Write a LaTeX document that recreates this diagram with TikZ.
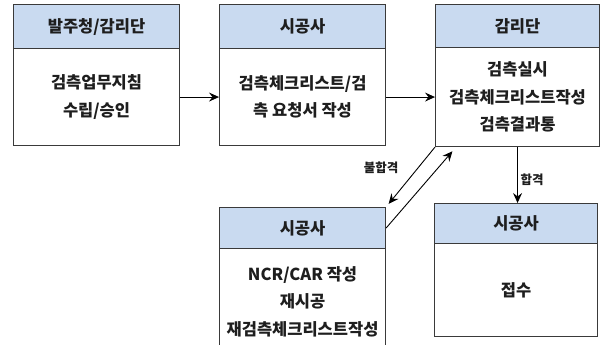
\documentclass[tikz,border=0pt]{standalone}
\usepackage{fontspec}
\setmainfont{Noto Sans CJK KR}
\usetikzlibrary{arrows.meta}
\definecolor{hdrfill}{HTML}{C9DAF0}
\definecolor{edge}{HTML}{3A3A3A}
\definecolor{txt}{HTML}{1E1E1E}
\tikzset{
  hdr/.style={draw=edge, line width=1.1pt, fill=hdrfill, anchor=north west, inner sep=0pt,
    text=txt, font=\fontsize{16.5}{27.5}\selectfont\bfseries},
  bodybox/.style={draw=edge, line width=1.1pt, fill=white, anchor=north west, inner sep=0pt,
    align=center, text=txt, font=\fontsize{16.5}{27.5}\selectfont\bfseries},
  flow/.style={draw=black, line width=0.9pt, -{Stealth[length=10pt,width=9pt,inset=3.5pt]}},
  lbl/.style={text=txt, font=\fontsize{12.5}{14}\selectfont\bfseries, inner sep=0pt}
}
\begin{document}
\begin{tikzpicture}[x=1pt,y=-1pt]
\clip (0,0) rectangle (602,345);
\fill[white] (0,0) rectangle (602,345);
% box 1
\node[bodybox, minimum width=166, minimum height=97] (b1) at (13,48) {검측업무지침\\수립/승인};
\node[hdr, minimum width=166, minimum height=44] (h1) at (13,4) {발주청/감리단};
% box 2
\node[bodybox, minimum width=166, minimum height=97] (b2) at (219,48) {검측체크리스트/검\\측 요청서 작성};
\node[hdr, minimum width=166, minimum height=44] (h2) at (219,4) {시공사};
% box 3
\node[bodybox, minimum width=164, minimum height=99] (b3) at (435,47) {검측실시\\검측체크리스트작성\\검측결과통};
\node[hdr, minimum width=164, minimum height=43] (h3) at (435,4) {감리단};
% box 4
\node[bodybox, minimum width=166, minimum height=106] (b4) at (219,248) {NCR/CAR 작성\\재시공\\재검측체크리스트작성};
\node[hdr, minimum width=166, minimum height=41] (h4) at (219,207) {시공사};
% box 5
\node[bodybox, minimum width=163, minimum height=93] (b5) at (434,243) {접수};
\node[hdr, minimum width=163, minimum height=40] (h5) at (434,203) {시공사};
% connectors
\draw[flow] (b1.east) -- (b2.west);
\draw[flow] (b2.east) -- (b3.west);
\draw[flow] (b3.south) -- (b3.south |- h5.north);
\draw[flow, shorten >=4pt] (b3.south west) -- (h4.north east);
\coordinate (c3) at (457,146);
\draw[flow, shorten >=7pt] (h4.east) -- (c3);
\node[lbl] (l1) at (381,168) {불합격};
\node[lbl] (l2) at (532,180) {합격};
\end{tikzpicture}
\end{document}
